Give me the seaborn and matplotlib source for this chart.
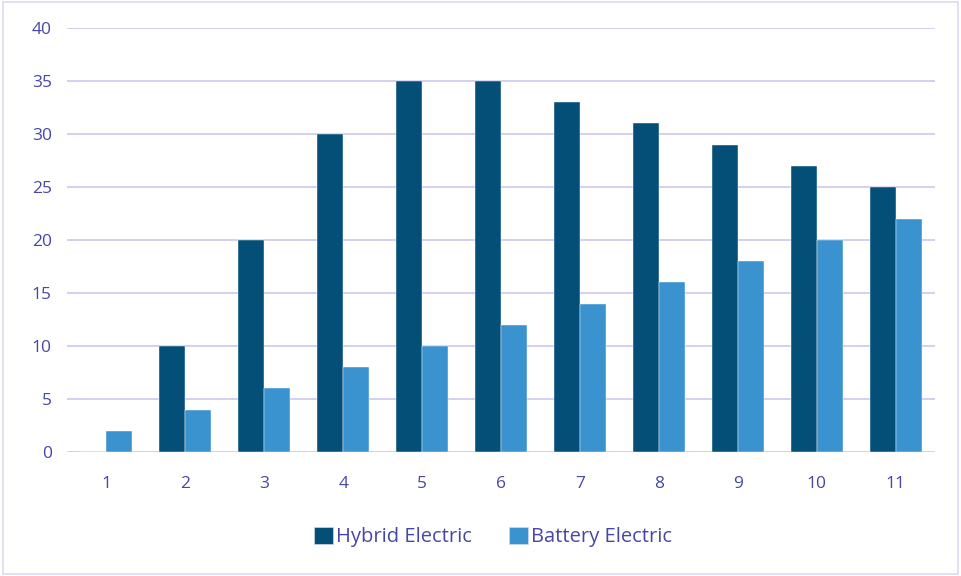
import matplotlib
matplotlib.use("Agg")
import matplotlib.pyplot as plt
import matplotlib.patches as mpatches
import pandas as pd
import seaborn as sns

# values
years = ["1", "2", "3", "4", "5", "6", "7", "8", "9", "10", "11"]
hybrid = [0, 10, 20, 30, 35, 35, 33, 31, 29, 27, 25]
battery = [2, 4, 6, 8, 10, 12, 14, 16, 18, 20, 22]
series_names = ["Hybrid Electric", "Battery Electric"]
colors = ["#034f78", "#3a92cf"]
text_color = "#4646a8"
grid_color = "#cfcbf0"

df = pd.DataFrame({
    "year": years * 2,
    "value": hybrid + battery,
    "series": [series_names[0]] * len(years) + [series_names[1]] * len(years),
})

sns.set_style("white")
plt.rcParams["font.family"] = ["Open Sans", "DejaVu Sans"]

fig = plt.figure(figsize=(9.61, 5.76), dpi=100)
ax = fig.add_axes([67 / 961, 1 - 452 / 576, 868 / 961, 424 / 576])

sns.barplot(data=df, x="year", y="value", hue="series", order=years,
            hue_order=series_names, palette=colors, width=0.66,
            edgecolor="white", linewidth=0.3, saturation=1, ax=ax, legend=False)

ax.set_ylim(0, 40)
ax.set_xlim(-0.5, len(years) - 0.5)
ax.set_yticks(range(0, 41, 5))
ax.yaxis.grid(True, color=grid_color, linewidth=1.3)
ax.set_axisbelow(True)
for s in ax.spines.values():
    s.set_visible(False)
ax.tick_params(axis="both", length=0, labelsize=12.5, labelcolor=text_color)
ax.tick_params(axis="y", pad=11)
ax.tick_params(axis="x", pad=17.5)
ax.set_xlabel("")
ax.set_ylabel("")

handles = [mpatches.Patch(facecolor=c, edgecolor="#cfd8ea", linewidth=0.5, label=n)
           for c, n in zip(colors, series_names)]
leg = fig.legend(handles=handles, loc="center", bbox_to_anchor=(493 / 961, 1 - 537 / 576),
                 ncol=2, frameon=False, fontsize=14.5, handlelength=0.95, handleheight=0.95,
                 handletextpad=0.15, columnspacing=1.8)
for t in leg.get_texts():
    t.set_color(text_color)

# light border round the whole picture
fig.patches.append(mpatches.Rectangle((3 / 961, 2 / 576), 955 / 961, 572 / 576,
                                      transform=fig.transFigure, fill=False,
                                      edgecolor="#dcdaf3", linewidth=1.2))

fig.savefig("out.png", dpi=100)
